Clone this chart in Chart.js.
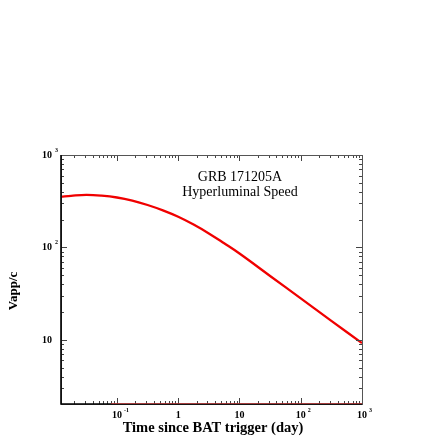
<!DOCTYPE html>
<html lang="en">
<head>
    <meta charset="UTF-8">
    <title>GRB 171205A Hyperluminal Speed</title>
    <style>
        body { margin: 0; background: #fff; }
        #chartBox { width: 436px; height: 436px; }
    </style>
</head>
<body>
    <div id="chartBox">
        <canvas id="myChart" width="436" height="436"></canvas>
    </div>

    <script src="https://cdn.jsdelivr.net/npm/chart.js@4.4.1/dist/chart.umd.min.js"></script>
    <script>
        // values (quarter-decade steps in time)
        var times = [0.0122, 0.0178, 0.0316, 0.0562, 0.1, 0.178, 0.316, 0.562, 1, 1.78, 3.16, 5.62, 10, 31.6, 100, 316, 1000];
        var vapp = [354, 362, 370, 363, 347, 321, 288, 252, 215, 177, 142, 111, 86, 49.2, 28.2, 16.1, 9.25];

        var xTickValues = [0.1, 1, 10, 100, 1000];
        var xTickBase = ['10', '1', '10', '10', '10'];
        var xTickExp = ['-1', '', '', '2', '3'];

        var yTickValues = [10, 100, 1000];
        var yTickBase = ['10', '10', '10'];
        var yTickExp = ['', '2', '3'];

        var xMin = 0.0122, xMax = 1000;
        var yMin = 2.03, yMax = 1000;

        var titleLines = ['GRB 171205A', 'Hyperluminal Speed'];
        var xTitle = 'Time since BAT trigger (day)';
        var yTitle = 'Vapp/c';

        var serif = '"Liberation Serif", "DejaVu Serif", serif';

        // draws the frame, inward ticks, powers-of-ten labels and titles
        var framePlugin = {
            id: 'frame',
            afterDraw: function (chart) {
                var ctx = chart.ctx;
                var a = chart.chartArea;
                var xs = chart.scales.x;
                var ys = chart.scales.y;
                ctx.save();

                // ticks on all four sides, pointing inward
                ctx.strokeStyle = '#444';
                ctx.lineWidth = 1;
                for (var d = -2; d <= 3; d++) {
                    for (var m = 1; m <= 9; m++) {
                        var v = m * Math.pow(10, d);
                        var len = (m == 1) ? 6 : 3;
                        if (v >= xMin && v <= xMax) {
                            var px = Math.round(xs.getPixelForValue(v)) + 0.5;
                            ctx.beginPath();
                            ctx.moveTo(px, a.bottom); ctx.lineTo(px, a.bottom - len);
                            ctx.moveTo(px, a.top); ctx.lineTo(px, a.top + len);
                            ctx.stroke();
                        }
                        if (v >= yMin && v <= yMax) {
                            var py = Math.round(ys.getPixelForValue(v)) + 0.5;
                            ctx.beginPath();
                            ctx.moveTo(a.left, py); ctx.lineTo(a.left + len, py);
                            ctx.moveTo(a.right, py); ctx.lineTo(a.right - len, py);
                            ctx.stroke();
                        }
                    }
                }

                // frame
                ctx.strokeStyle = '#555';
                ctx.lineWidth = 1;
                ctx.strokeRect(a.left + 0.5, a.top + 0.5, a.right - a.left, a.bottom - a.top);
                ctx.strokeStyle = '#000';
                ctx.lineWidth = 1.6;
                ctx.beginPath();
                ctx.moveTo(a.left, a.top); ctx.lineTo(a.left, a.bottom); ctx.lineTo(a.right, a.bottom);
                ctx.stroke();
                // faint red along the bottom edge, as in the picture
                ctx.strokeStyle = 'rgba(230,60,60,0.6)';
                ctx.lineWidth = 1;
                ctx.beginPath();
                ctx.moveTo(xs.getPixelForValue(0.08), a.bottom - 0.5); ctx.lineTo(a.right, a.bottom - 0.5);
                ctx.stroke();

                // tick labels
                ctx.fillStyle = '#000';
                ctx.textBaseline = 'middle';
                for (var i = 0; i < xTickValues.length; i++) {
                    var x = xs.getPixelForValue(xTickValues[i]);
                    ctx.font = 'bold 10px ' + serif;
                    var w = ctx.measureText(xTickBase[i]).width;
                    ctx.textAlign = 'left';
                    ctx.fillText(xTickBase[i], x - w / 2, a.bottom + 11);
                    if (xTickExp[i]) {
                        ctx.font = 'bold 6px ' + serif;
                        ctx.fillText(xTickExp[i], x + w / 2 + 2, a.bottom + 6);
                    }
                }
                for (var j = 0; j < yTickValues.length; j++) {
                    var y = ys.getPixelForValue(yTickValues[j]);
                    ctx.font = 'bold 10px ' + serif;
                    ctx.textAlign = 'right';
                    ctx.fillText(yTickBase[j], a.left - 9, y);
                    if (yTickExp[j]) {
                        ctx.font = 'bold 6px ' + serif;
                        ctx.textAlign = 'left';
                        ctx.fillText(yTickExp[j], a.left - 6, y - 5);
                    }
                }

                // label inside the box
                ctx.textAlign = 'center';
                ctx.font = '14px ' + serif;
                ctx.fillText(titleLines[0], 240, 177);
                ctx.fillText(titleLines[1], 240, 192);

                // axis titles
                ctx.font = 'bold 14.5px ' + serif;
                ctx.fillText(xTitle, 213, 428);

                ctx.translate(14, 291);
                ctx.rotate(-Math.PI / 2);
                ctx.font = 'bold 13px ' + serif;
                ctx.fillText(yTitle, 0, 0);

                ctx.restore();
            }
        };

        var points = [];
        for (var k = 0; k < times.length; k++) {
            points.push({ x: times[k], y: vapp[k] });
        }

        var ctx = document.getElementById('myChart').getContext('2d');
        var myChart = new Chart(ctx, {
            type: 'line',
            data: {
                datasets: [{
                    data: points,
                    borderColor: '#f00000',
                    borderWidth: 2.3,
                    pointRadius: 0,
                    tension: 0.4,
                    fill: false
                }]
            },
            options: {
                responsive: false,
                animation: false,
                layout: { padding: { left: 61, right: 74, top: 155, bottom: 32 } },
                plugins: { legend: { display: false }, tooltip: { enabled: false } },
                scales: {
                    x: { type: 'logarithmic', min: xMin, max: xMax, display: false },
                    y: { type: 'logarithmic', min: yMin, max: yMax, display: false }
                }
            },
            plugins: [framePlugin]
        });
    </script>
</body>
</html>
